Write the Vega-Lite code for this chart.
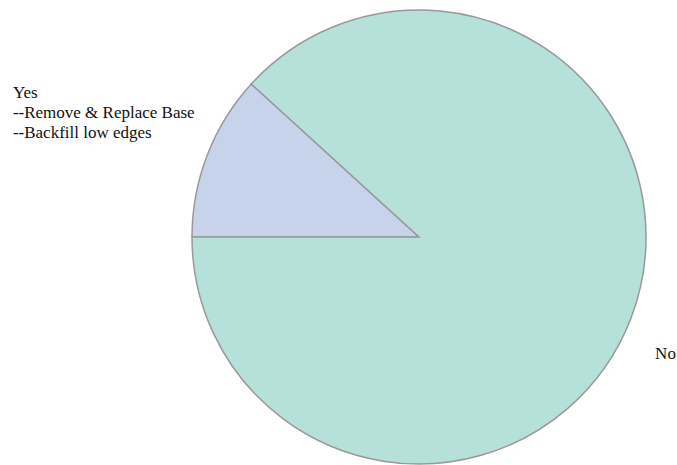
{
  "$schema": "https://vega.github.io/schema/vega-lite/v6.json",
  "width": 454,
  "height": 454,
  "autosize": {"type": "none"},
  "padding": {"left": 192, "top": 10, "right": 31, "bottom": 1},
  "background": "white",
  "view": {"stroke": null},
  "data": {
    "values": [
      {"answer": "Yes", "count": 2, "label": "Yes\n--Remove & Replace Base\n--Backfill low edges"},
      {"answer": "No", "count": 15, "label": "No"}
    ]
  },
  "encoding": {
    "theta": {"field": "count", "type": "quantitative", "stack": true, "scale": {"range": [4.712389, 10.995574]}},
    "order": {"field": "answer", "sort": "descending"}
  },
  "layer": [
    {
      "mark": {"type": "arc", "outerRadius": 227, "stroke": "#999999", "strokeWidth": 1.5},
      "encoding": {
        "color": {"field": "answer", "type": "nominal", "legend": null, "scale": {"domain": ["Yes", "No"], "range": ["#c7d2eb", "#b6e0da"]}}
      }
    },
    {
      "mark": {"type": "text", "radius": 250, "align": "left", "baseline": "middle", "dx": -173, "dy": -54, "font": "Liberation Serif, DejaVu Serif, serif", "fontSize": 17, "lineHeight": 20, "lineBreak": "\n", "color": "#111111"},
      "encoding": {
        "text": {"condition": {"test": "datum.answer === 'Yes'", "field": "label"}, "value": ""}
      }
    },
    {
      "mark": {"type": "text", "radius": 250, "align": "left", "baseline": "middle", "dx": 3, "dy": 27, "font": "Liberation Serif, DejaVu Serif, serif", "fontSize": 17, "lineHeight": 20, "lineBreak": "\n", "color": "#111111"},
      "encoding": {
        "text": {"condition": {"test": "datum.answer === 'No'", "field": "label"}, "value": ""}
      }
    }
  ]
}
